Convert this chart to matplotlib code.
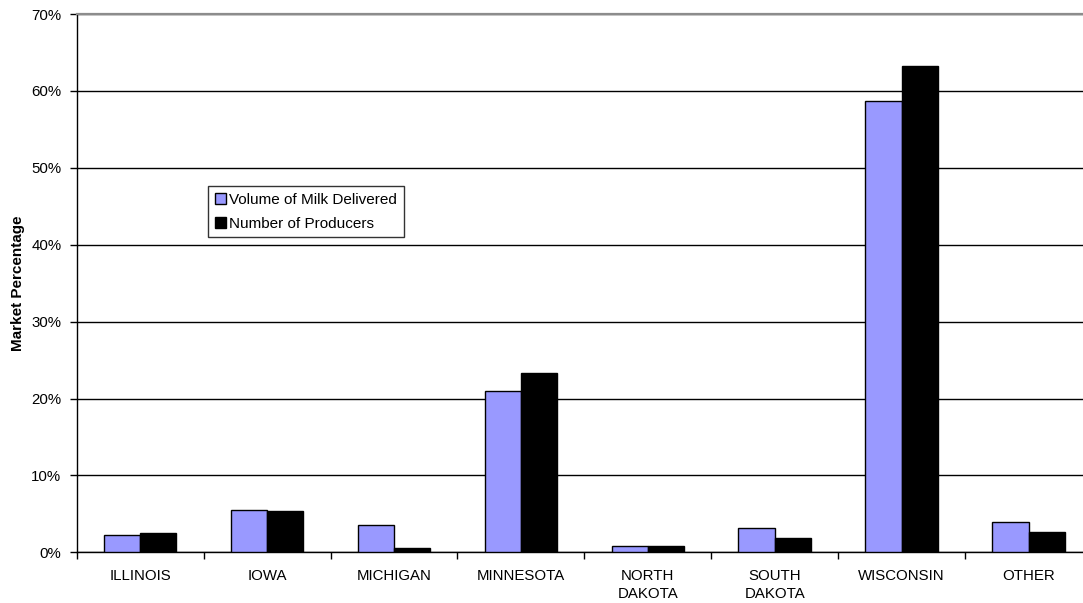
import matplotlib
matplotlib.use("Agg")
import matplotlib.pyplot as plt
from matplotlib.ticker import FixedLocator, PercentFormatter
import numpy as np

DPI = 100

states = ["ILLINOIS", "IOWA", "MICHIGAN", "MINNESOTA", "NORTH\nDAKOTA",
          "SOUTH\nDAKOTA", "WISCONSIN", "OTHER"]
milk_volume = [2.2, 5.5, 3.6, 21.0, 0.8, 3.2, 58.7, 3.9]
producers = [2.5, 5.4, 0.6, 23.3, 0.8, 1.9, 63.3, 2.6]

series_labels = ["Volume of Milk Delivered", "Number of Producers"]
series_colors = ["#9999FF", "#000000"]

plt.rcParams["font.family"] = ["Liberation Sans", "DejaVu Sans"]

fig = plt.figure(figsize=(1083 / DPI, 603 / DPI), dpi=DPI)
# plot area runs a little past the right edge, as in the original sheet export
ax = fig.add_axes([76.7 / 1083, 50.7 / 603, 1015.3 / 1083, 538.3 / 603])

x = np.arange(len(states))
width = 1 / 3.5  # two bars plus a 150% gap
for i, (vals, label, color) in enumerate(zip([milk_volume, producers], series_labels, series_colors)):
    ax.bar(x + (i - 0.5) * width, vals, width, label=label, color=color,
           edgecolor="black", linewidth=1, zorder=3)

ax.set_xlim(-0.5, len(states) - 0.5)
ax.set_ylim(0, 70)
ax.yaxis.set_major_locator(FixedLocator(np.arange(0, 71, 10)))
ax.yaxis.set_major_formatter(PercentFormatter(decimals=0))
ax.grid(axis="y", color="black", linewidth=1, zorder=0)

ax.set_xticks(x)
ax.set_xticklabels(states, fontsize=10.8, linespacing=1.35)
ax.xaxis.set_minor_locator(FixedLocator(np.arange(-0.5, len(states), 1)))
ax.tick_params(axis="x", which="major", length=0, pad=12)
ax.tick_params(axis="x", which="minor", length=5, width=1, color="black")
ax.tick_params(axis="y", length=5, width=1, pad=6, labelsize=10.8)

for side in ["left", "bottom"]:
    ax.spines[side].set_color("black")
    ax.spines[side].set_linewidth(1)
ax.spines["right"].set_visible(False)
ax.spines["top"].set_color("#8c8c8c")
ax.spines["top"].set_linewidth(1.6)

ax.set_ylabel("Market Percentage", fontsize=11, fontweight="bold")
ax.yaxis.set_label_coords(-52 / 1015.3, 0.5)

leg = ax.legend(loc="upper left", bbox_to_anchor=(0.1296, 0.681), fontsize=11,
                frameon=True, fancybox=False, edgecolor="black",
                handlelength=0.7, handleheight=0.7, handletextpad=0.2,
                borderpad=0.45, labelspacing=0.65, borderaxespad=0)
leg.get_frame().set_linewidth(1)

fig.savefig("out.png", dpi=DPI)
